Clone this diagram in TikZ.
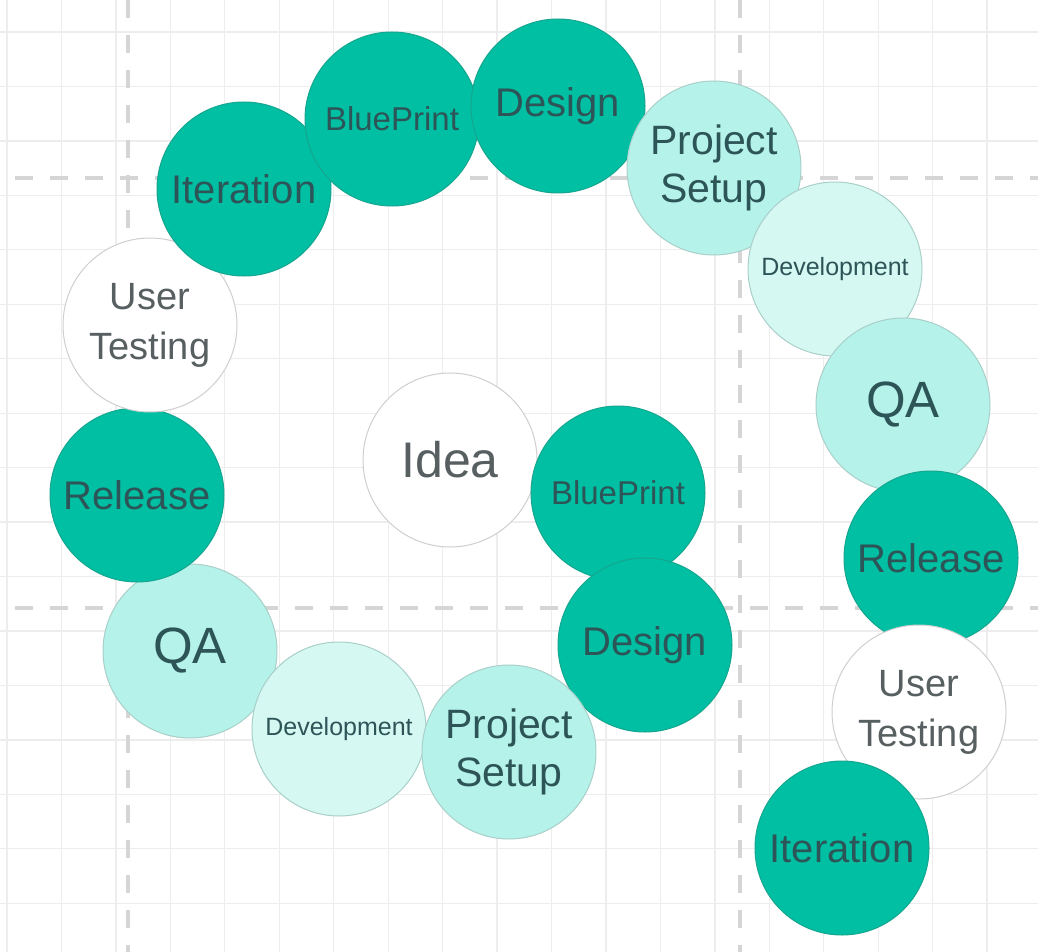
\documentclass[tikz,border=0pt]{standalone}
\usepackage{fontspec}
\setmainfont{Liberation Sans}
\begin{document}
\begin{tikzpicture}[x=1pt,y=-1pt,
        fase/.style={circle,minimum size=174pt,inner sep=0pt,align=center,line width=1pt},
        oscuro/.style={fase,fill=tt,draw=ttb,text=txt},
        claro/.style={fase,fill=lt,draw=ltb,text=txt},
        clarito/.style={fase,fill=llt,draw=ltb,text=txt},
        blanco/.style={fase,fill=white,draw=wb,text=txg},
        tam/.style 2 args={font=\fontsize{#1}{#2}\selectfont},
        rejilla/.style={draw=gr,line width=1.3pt},
        guia/.style={draw=gd,line width=3.5pt,dash pattern=on 18pt off 17pt}]
        %colores
        \definecolor{tt}{HTML}{00BFA3}
        \definecolor{ttb}{HTML}{14A68E}
        \definecolor{lt}{HTML}{B5F2EA}
        \definecolor{llt}{HTML}{D6F8F2}
        \definecolor{ltb}{HTML}{A9CFC9}
        \definecolor{wb}{HTML}{CFCFCF}
        \definecolor{txt}{HTML}{2D5558}
        \definecolor{txg}{HTML}{575F61}
        \definecolor{gr}{HTML}{EDEDED}
        \definecolor{gd}{HTML}{D5D5D5}

        % Fondo
        \fill[white] (0,0) rectangle (1038,952);
        \useasboundingbox (0,0) rectangle (1038,952);

        % Rejilla y lineas guia
        \begin{scope}
            \foreach \i in {0,...,18}
            \draw[rejilla] (7+54.45*\i,0) -- (7+54.45*\i,952);
            \foreach \i in {0,...,16}
            \draw[rejilla] (0,32+54.45*\i) -- (1038,32+54.45*\i);
            \foreach \x in {128,740}
            \draw[guia] (\x,0) -- (\x,952);
            \foreach \y in {178,608}
            \draw[guia] (15,\y) -- (1038,\y);
        \end{scope}

        % Espiral interior
        \node[blanco,tam={50}{60}] (idea) at (450,460) {Idea};
        \node[oscuro,tam={33}{40}] (bp1) at (618,493) {BluePrint};
        \node[oscuro,tam={40}{48}] (di1) at (645,645) {Design};
        \node[claro,tam={51}{60}] (qa1) at (190,651) {QA};
        \node[clarito,tam={25}{30}] (de1) at (339,729) {Development};
        \node[claro,tam={41}{48}] (ps1) at (509,752) {Project\\Setup};
        \node[oscuro,tam={40}{48}] (re1) at (137,495) {Release};
        \node[blanco,tam={38}{50}] (ut1) at (150,325) {User\\Testing};
        \node[oscuro,tam={40}{48}] (it1) at (244,189) {Iteration};

        % Espiral exterior
        \node[oscuro,tam={33}{40}] (bp2) at (392,119) {BluePrint};
        \node[oscuro,tam={40}{48}] (di2) at (558,106) {Design};
        \node[claro,tam={41}{48}] (ps2) at (714,168) {Project\\Setup};
        \node[clarito,tam={25}{30}] (de2) at (835,269) {Development};
        \node[claro,tam={51}{60}] (qa2) at (903,405) {QA};
        \node[oscuro,tam={40}{48}] (re2) at (931,558) {Release};
        \node[blanco,tam={38}{50}] (ut2) at (919,712) {User\\Testing};
        \node[oscuro,tam={40}{48}] (it2) at (842,848) {Iteration};
    \end{tikzpicture}
\end{document}
